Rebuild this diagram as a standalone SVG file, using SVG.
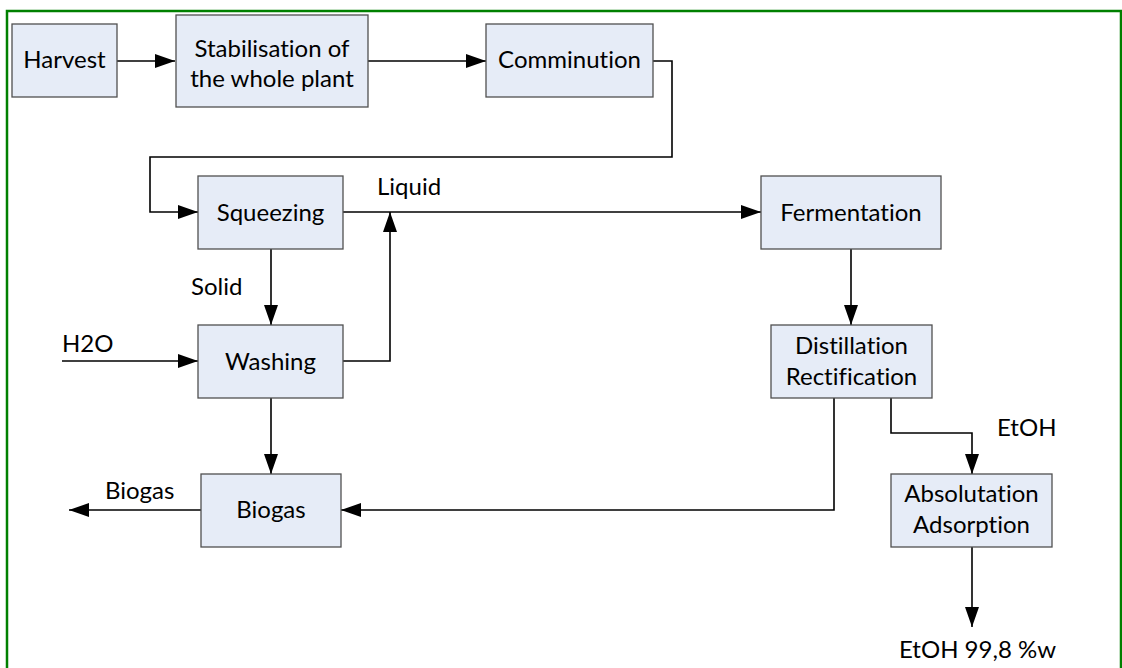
<svg xmlns="http://www.w3.org/2000/svg" width="1122" height="668" viewBox="0 0 1122 668">
<style>
.box{fill:#e6ecf7;stroke:#505050;stroke-width:1.3}
.t{font-family:Lato,"Open Sans",sans-serif;font-size:24px;fill:#000;font-variant-ligatures:none}
.c{text-anchor:middle}
.ln{fill:none;stroke:#000;stroke-width:1.6}
</style>
<defs>
<marker id="ah" markerUnits="userSpaceOnUse" markerWidth="22" markerHeight="16" refX="20" refY="7" orient="auto">
<path d="M0,0 L20,7 L0,14 Z" fill="#000"/>
</marker>
</defs>
<rect width="1122" height="668" fill="#fff"/>
<path d="M7,668 V11 H1121 V668" fill="none" stroke="#008000" stroke-width="2.5"/>
<g id="connectors">
<path class="ln" d="M117,61 H175" marker-end="url(#ah)"/>
<path class="ln" d="M368,61 H486" marker-end="url(#ah)"/>
<path class="ln" d="M653,61 H672 V157 H150 V212 H198" marker-end="url(#ah)"/>
<path class="ln" d="M343,212 H761" marker-end="url(#ah)"/>
<path class="ln" d="M271,249 V325" marker-end="url(#ah)"/>
<path class="ln" d="M343,361 H390 V212" marker-end="url(#ah)"/>
<path class="ln" d="M62,361 H198" marker-end="url(#ah)"/>
<path class="ln" d="M271,398 V474" marker-end="url(#ah)"/>
<path class="ln" d="M201,510 H69" marker-end="url(#ah)"/>
<path class="ln" d="M851,249 V325" marker-end="url(#ah)"/>
<path class="ln" d="M834,398 V510 H341" marker-end="url(#ah)"/>
<path class="ln" d="M891,398 V433 H972 V474" marker-end="url(#ah)"/>
<path class="ln" d="M972,547 V627" marker-end="url(#ah)"/>
<text class="t" x="377" y="195">Liquid</text>
<text class="t" x="191" y="295">Solid</text>
<text class="t" x="62" y="352">H2O</text>
<text class="t" x="105" y="499">Biogas</text>
<text class="t" x="997" y="436">EtOH</text>
<text class="t" x="899" y="658">EtOH 99,8 %w</text>
</g>
<g id="harvest"><rect class="box" x="12" y="24" width="105" height="73"/><text class="t c" x="64.5" y="68">Harvest</text></g>
<g id="stabilisation"><rect class="box" x="176" y="15" width="192" height="92"/><text class="t c" x="272" y="57">Stabilisation of</text><text class="t c" x="272" y="87">the whole plant</text></g>
<g id="comminution"><rect class="box" x="486" y="24" width="167" height="73"/><text class="t c" x="569.5" y="68">Comminution</text></g>
<g id="squeezing"><rect class="box" x="198" y="176" width="145" height="73"/><text class="t c" x="270.5" y="221">Squeezing</text></g>
<g id="washing"><rect class="box" x="198" y="325" width="145" height="73"/><text class="t c" x="270.5" y="370">Washing</text></g>
<g id="biogas"><rect class="box" x="201" y="474" width="140" height="73"/><text class="t c" x="271" y="518">Biogas</text></g>
<g id="fermentation"><rect class="box" x="761" y="176" width="180" height="73"/><text class="t c" x="851" y="221">Fermentation</text></g>
<g id="distillation"><rect class="box" x="771" y="325" width="161" height="73"/><text class="t c" x="851.5" y="354">Distillation</text><text class="t c" x="851.5" y="385">Rectification</text></g>
<g id="absolutation"><rect class="box" x="891" y="474" width="161" height="73"/><text class="t c" x="971.5" y="502">Absolutation</text><text class="t c" x="971.5" y="533">Adsorption</text></g>
</svg>
